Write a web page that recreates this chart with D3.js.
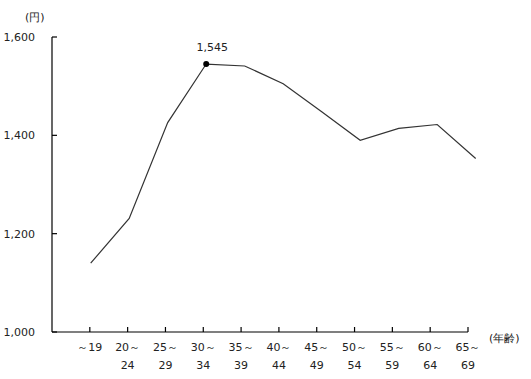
<!DOCTYPE html>
<html><head><meta charset="utf-8">
<script src="https://cdn.jsdelivr.net/npm/d3@7"></script>
<style>body{margin:0;background:#fff}text{font-family:"DejaVu Sans",sans-serif;font-size:11px;fill:#222}</style>
</head><body>
<svg id="c" width="531" height="379"></svg>
<script>
const categoriesTop = ["～19","20～","25～","30～","35～","40～","45～","50～","55～","60～","65～"];
const categoriesBottom = ["","24","29","34","39","44","49","54","59","64","69"];
const values = [1140,1231,1426,1545,1541,1505,1448,1390,1414,1422,1353];
const yTicks = [1000,1200,1400,1600];
const highlightIndex = 3;

const svg = d3.select("#c");
const idx = d3.range(categoriesTop.length);
const xAxisScale = d3.scaleLinear().domain([-1,10]).range([52,468]);
const xLine = d3.scaleLinear().domain([0,10]).range([90.7,475.7]);
const y = d3.scaleLinear().domain([1000,1600]).range([332,37]);

// y axis
const ya = svg.append("g");
ya.append("line").attr("x1",52).attr("x2",52).attr("y1",y(1600)).attr("y2",y(1000)).attr("stroke","#000").attr("stroke-width",1.2);
yTicks.forEach(t=>{
  ya.append("line").attr("x1",52).attr("x2",57).attr("y1",y(t)).attr("y2",y(t)).attr("stroke","#000").attr("stroke-width",1.2);
  ya.append("text").attr("x",35).attr("y",y(t)).attr("dy","0.35em").attr("text-anchor","end").text(d3.format(",")(t));
});
svg.append("text").attr("x",25).attr("y",21).text("(円)");

// x axis
const xa = svg.append("g");
xa.append("line").attr("x1",52).attr("x2",468).attr("y1",y(1000)).attr("y2",y(1000)).attr("stroke","#000").attr("stroke-width",1.2);
idx.forEach(i=>{
  const x = xAxisScale(i);
  xa.append("line").attr("x1",x).attr("x2",x).attr("y1",y(1000)).attr("y2",y(1000)-5).attr("stroke","#000").attr("stroke-width",1.2);
  xa.append("text").attr("x",x).attr("y",351).attr("text-anchor","middle").text(categoriesTop[i]);
  if (categoriesBottom[i]) xa.append("text").attr("x",x).attr("y",369).attr("text-anchor","middle").text(categoriesBottom[i]);
});
svg.append("text").attr("x",489).attr("y",342).text("(年齢)");

// line
const line = d3.line().x((d,i)=>xLine(i)).y(d=>y(d));
svg.append("path").datum(values).attr("d",line).attr("fill","none").attr("stroke","#333").attr("stroke-width",1.2);

svg.append("circle").attr("cx",xLine(highlightIndex)).attr("cy",y(values[highlightIndex])).attr("r",3).attr("fill","#000");
svg.append("text").attr("x",xLine(highlightIndex)+6).attr("y",y(values[highlightIndex])-13).attr("text-anchor","middle").text(d3.format(",")(values[highlightIndex]));
</script>
</body></html>
